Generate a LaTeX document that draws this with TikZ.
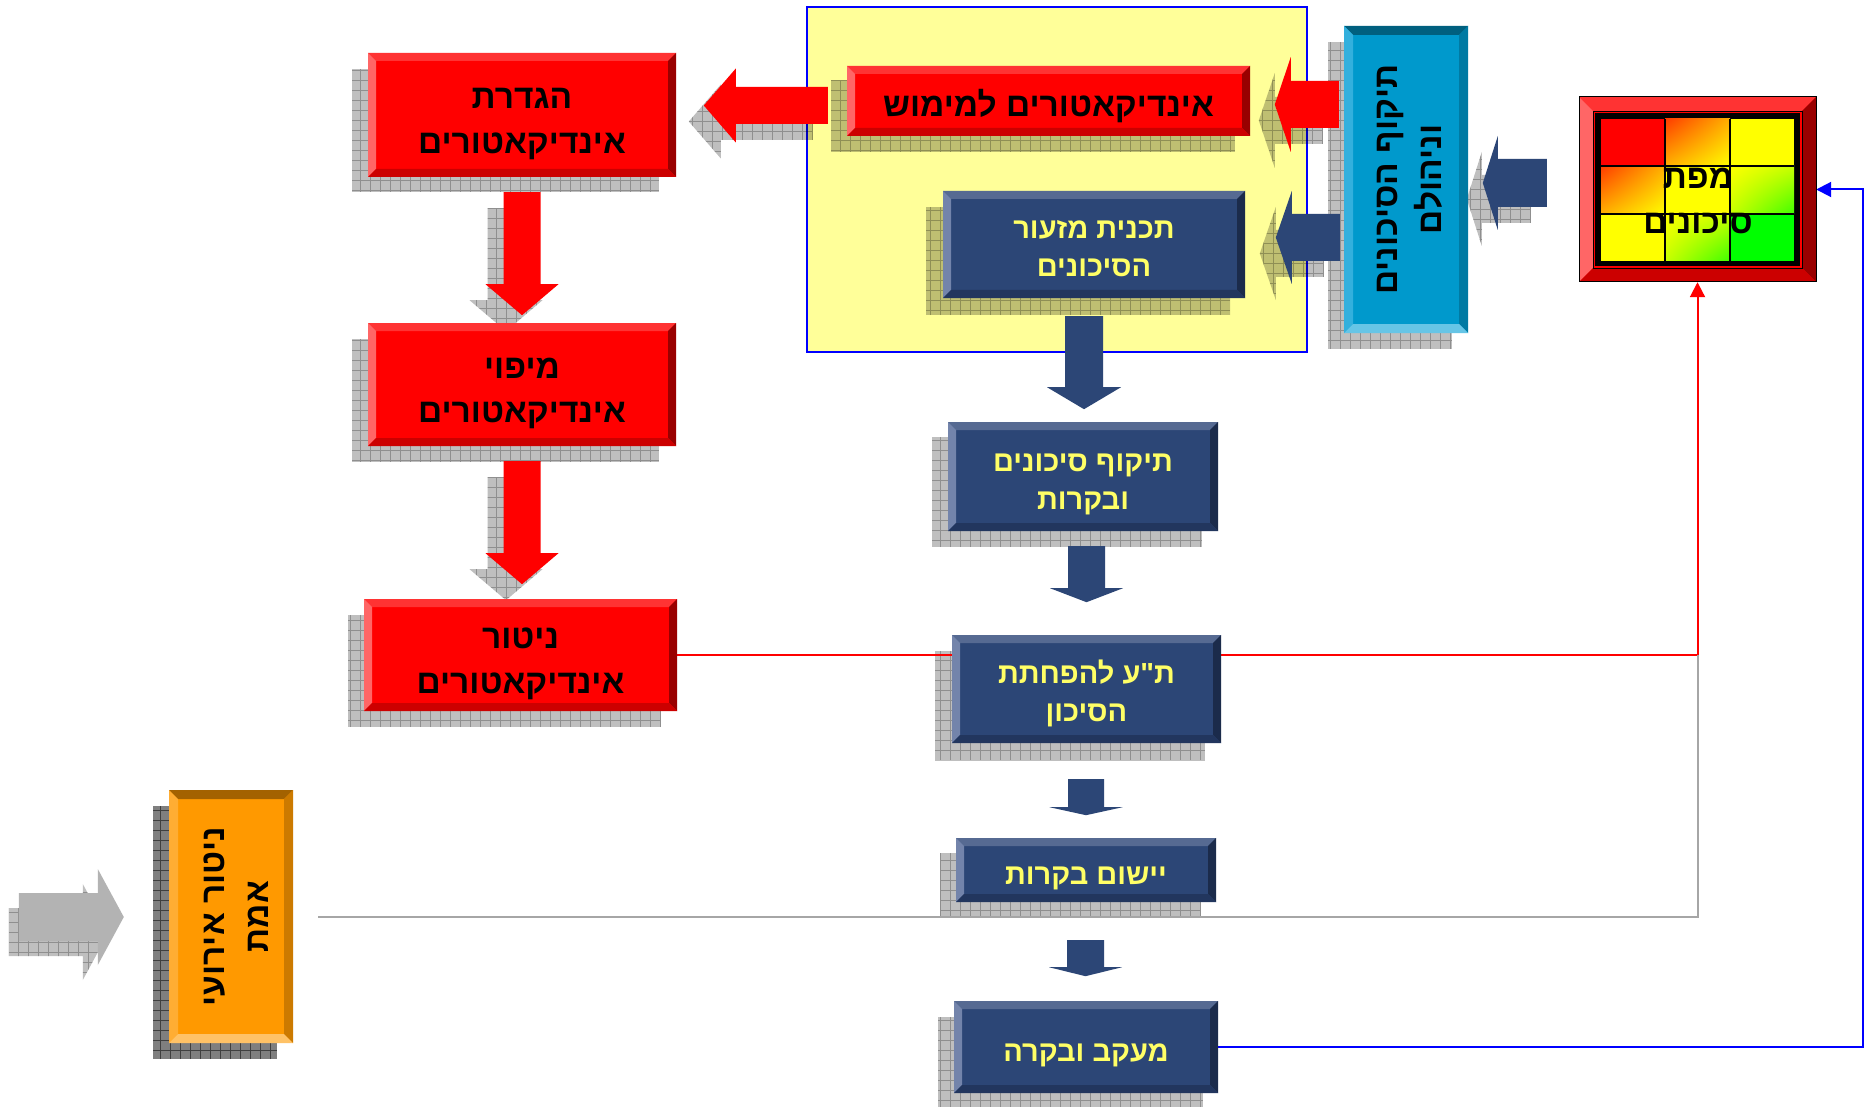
\documentclass[tikz,border=0pt]{standalone}
\usepackage{fontspec}
\newfontfamily\heb[Script=Hebrew]{Liberation Sans}
\TeXXeTstate=1
\usetikzlibrary{arrows.meta,shadings}
\definecolor{redF}{HTML}{FF0000}
\definecolor{redT}{HTML}{FF3333}
\definecolor{redL}{HTML}{FF6666}
\definecolor{redR}{HTML}{990000}
\definecolor{redB}{HTML}{CC0000}
\definecolor{bluF}{HTML}{2C4676}
\definecolor{bluT}{HTML}{566A92}
\definecolor{bluL}{HTML}{7384AB}
\definecolor{bluR}{HTML}{1B2B4B}
\definecolor{bluB}{HTML}{22365E}
\definecolor{tealF}{HTML}{0099CC}
\definecolor{tealT}{HTML}{00607F}
\definecolor{tealL}{HTML}{33B0DD}
\definecolor{tealR}{HTML}{007AA3}
\definecolor{tealB}{HTML}{66C5E6}
\definecolor{orgF}{HTML}{FF9900}
\definecolor{orgT}{HTML}{A36200}
\definecolor{orgL}{HTML}{FFAD33}
\definecolor{orgR}{HTML}{CC7A00}
\definecolor{orgB}{HTML}{FFC266}
\definecolor{panelY}{HTML}{FFFF99}
\definecolor{txtY}{HTML}{FFFF66}
\definecolor{grayA}{HTML}{B3B3B3}
\definecolor{grayLn}{HTML}{A6A6A6}
\definecolor{rOr}{HTML}{FF3C00}
\definecolor{mOr}{HTML}{FFB000}
\definecolor{yel}{HTML}{FFFF00}
\definecolor{yg}{HTML}{C8FF00}
\definecolor{grn}{HTML}{00FF00}
\definecolor{grnB}{HTML}{40FF00}
\pgfdeclarelayer{bg}\pgfdeclarelayer{panel}\pgfdeclarelayer{shad}\pgfdeclarelayer{lines}
\pgfsetlayers{bg,panel,shad,lines,main}
\tikzset{
  boxbase/.style={inner sep=0pt},
  blk/.style={font=\heb\bfseries\fontsize{33.5}{44.5}\selectfont, text=black, align=center},
  blkt/.style={blk, yshift=-9pt},
  blk1/.style={blk, yshift=-5pt},
  ylw/.style={font=\heb\bfseries\fontsize{29}{38}\selectfont, text=txtY, align=center, yshift=-8pt},
  ylwh/.style={ylw, yshift=4pt},
  conn/.style={line width=2pt},
  tip/.style={-{Triangle[width=15pt,length=15pt]}},
}
% bevelled box: name x1 y1 x2 y2 bevel scheme text-options text
\newcommand\bevbox[9]{%
  \node[boxbase, fill=#7F, minimum width={(#4-#2)*1pt}, minimum height={(#5-#3)*1pt}] (#1) at ({(#2+#4)/2},{(#3+#5)/2}) {};
  \fill[#7T] (#2,#3) -- (#4,#3) -- ({#4-#6},{#3+#6}) -- ({#2+#6},{#3+#6}) -- cycle;
  \fill[#7L] (#2,#3) -- ({#2+#6},{#3+#6}) -- ({#2+#6},{#5-#6}) -- (#2,#5) -- cycle;
  \fill[#7R] (#4,#3) -- (#4,#5) -- ({#4-#6},{#5-#6}) -- ({#4-#6},{#3+#6}) -- cycle;
  \fill[#7B] (#2,#5) -- (#4,#5) -- ({#4-#6},{#5-#6}) -- ({#2+#6},{#5-#6}) -- cycle;
  \node[#8] (#1t) at (#1.center) {#9};}
% rectangular grid shadow
\newcommand\shrect[5][.25]{%
  \begin{pgfonlayer}{shad}\begin{scope}
  \clip (#2,#3) rectangle (#4,#5);
  \fill[black,fill opacity=#1] (#2,#3) rectangle (#4,#5);
  \draw[black,draw opacity=#1,line width=.8pt,step=10pt] (#2,#3) grid (#4,#5);
  \end{scope}\end{pgfonlayer}}
% block arrow outlines (origin at tail centre)
\newcommand\dpath[4]{(-#1,0) -- (#1,0) -- (#1,#2) -- (#3,#2) -- (0,{#2+#4}) -- (-#3,#2) -- (-#1,#2) -- cycle}
\newcommand\lpath[4]{(0,-#1) -- (0,#1) -- (-#2,#1) -- (-#2,#3) -- ({-#2-#4},0) -- (-#2,-#3) -- (-#2,-#1) -- cycle}
\newcommand\rpath[4]{(0,-#1) -- (#2,-#1) -- (#2,-#3) -- ({#2+#4},0) -- (#2,#3) -- (#2,#1) -- (0,#1) -- cycle}
% arrow shadow: anchor dx dy path
\newcommand\arrsh[4]{%
  \begin{pgfonlayer}{shad}\begin{scope}[shift={(#1)},shift={(#2,#3)}]
  \clip #4;
  \fill[black,fill opacity=.25] (-300,-300) rectangle (300,300);
  \draw[black,draw opacity=.25,line width=.8pt,step=10pt] (-300,-300) grid (300,300);
  \end{scope}\end{pgfonlayer}}
\begin{document}
\begin{tikzpicture}[x=1pt,y=-1pt]
\useasboundingbox (0,0) rectangle (1876,1107);
\begin{pgfonlayer}{bg}
\fill[white] (0,0) rectangle (1876,1107);
\end{pgfonlayer}
\begin{pgfonlayer}{panel}
\node[draw=blue, fill=panelY, line width=1.5pt, minimum width=500pt, minimum height=345pt, inner sep=0pt] (panel) at (1057,179.5) {};
\end{pgfonlayer}
% box shadows
\shrect{352}{69}{659}{192}
\shrect{352}{339}{659}{462}
\shrect{348}{615}{661}{727}
\shrect{831}{80}{1235}{152}
\shrect{926}{207}{1230}{315}
\shrect{932}{437}{1202}{547}
\shrect{935}{651}{1205}{760}
\shrect{940}{853}{1201}{917}
\shrect{938}{1017}{1203}{1107}
\shrect{1328}{42}{1452}{349}
\shrect[.5]{153}{806}{277}{1059}
% boxes
\bevbox{A}{368}{53}{676}{177}{8}{red}{blkt}{\beginR הגדרת\endR\\\beginR אינדיקאטורים\endR}
\bevbox{B}{368}{323}{676}{446}{8}{red}{blkt}{\beginR מיפוי\endR\\\beginR אינדיקאטורים\endR}
\bevbox{C}{364}{599}{677}{711}{8}{red}{blkt}{\beginR ניטור\endR\\\beginR אינדיקאטורים\endR}
\bevbox{L}{847}{66}{1250}{136}{8}{red}{blk1}{\beginR אינדיקאטורים למימוש\endR}
\bevbox{M}{943}{191}{1245}{298}{8}{blu}{ylwh}{\beginR תכנית מזעור\endR\\\beginR הסיכונים\endR}
\bevbox{N}{948}{422}{1218}{531}{8}{blu}{ylw}{\beginR תיקוף סיכונים\endR\\\beginR ובקרות\endR}
\bevbox{O}{952}{635}{1221}{743}{8}{blu}{ylwh}{\beginR ת"ע להפחתת\endR\\\beginR הסיכון\endR}
\bevbox{P}{956}{838}{1216}{902}{8}{blu}{ylw}{\beginR יישום בקרות\endR}
\bevbox{Q}{954}{1001}{1218}{1093}{8}{blu}{ylw}{\beginR מעקב ובקרה\endR}
\bevbox{T}{1344}{26}{1468}{333}{9}{teal}{blk, xshift=4pt, rotate=90}{\beginR תיקוף הסיכונים\endR\\\beginR וניהולם\endR}
\bevbox{orng}{169}{790}{293}{1043}{9}{org}{blk, xshift=5pt, rotate=90}{\beginR ניטור אירועי\endR\\\beginR אמת\endR}
% risk map
\bevbox{risk}{1579}{97}{1816}{282}{14}{red}{}{}
\draw[black, line width=1pt] (1579,97) rectangle (1816,282);
\draw[black, line width=.8pt] (1593,111) rectangle (1802,268);
\fill[black] (1595,113) rectangle (1800,266);
\fill[red] (1601,119) rectangle (1665,166);
\shade[upper left=rOr, upper right=mOr, lower left=mOr, lower right=yel] (1665,119) rectangle (1730,166);
\fill[yel] (1730,119) rectangle (1794,166);
\shade[upper left=rOr, upper right=mOr, lower left=mOr, lower right=yel] (1601,166) rectangle (1665,214);
\fill[yel] (1665,166) rectangle (1730,214);
\shade[upper left=yel, upper right=yg, lower left=yg, lower right=grnB] (1730,166) rectangle (1794,214);
\fill[yel] (1601,214) rectangle (1665,261);
\shade[upper left=yel, upper right=yg, lower left=yg, lower right=grnB] (1665,214) rectangle (1730,261);
\fill[grn] (1730,214) rectangle (1794,261);
\draw[black, line width=1.3pt] (1665,119) -- (1665,261) (1730,119) -- (1730,261) (1601,166) -- (1794,166) (1601,214) -- (1794,214);
\node[blk] (risktext) at (1698,201) {\beginR מפת\endR\\\beginR סיכונים\endR};
% block arrows with shadows
\arrsh{A.south}{-16}{31}{\dpath{18.5}{92}{36.5}{31}}
\fill[redF, shift={(A.south)}, shift={(0,15)}] \dpath{18.5}{92}{36.5}{31};
\arrsh{B.south}{-16}{31}{\dpath{18.5}{92}{36.5}{31}}
\fill[redF, shift={(B.south)}, shift={(0,15)}] \dpath{18.5}{92}{36.5}{31};
\arrsh{L.west}{-34}{20.5}{\lpath{18.5}{92}{37}{32}}
\fill[redF, shift={(L.west)}, shift={(-19,4.5)}] \lpath{18.5}{92}{37}{32};
\arrsh{T.west}{-21}{-59}{\lpath{23.5}{48}{47.5}{16}}
\fill[redF, shift={(T.west)}, shift={(-5,-75)}] \lpath{23.5}{48}{47.5}{16};
\arrsh{T.west}{-20}{74}{\lpath{23.5}{48}{46.5}{16}}
\fill[bluF, shift={(T.west)}, shift={(-4,58)}] \lpath{23.5}{48}{46.5}{16};
\arrsh{risk.west}{-48}{9.5}{\lpath{24}{49}{47}{15}}
\fill[bluF, shift={(risk.west)}, shift={(-32,-6.5)}] \lpath{24}{49}{47}{15};
\fill[bluF, shift={(M.south)}, shift={(-10,18)}] \dpath{19}{71}{37}{22};
\fill[bluF, shift={(N.south)}, shift={(3.5,15)}] \dpath{18.5}{42}{36.5}{14};
\fill[bluF, shift={(O.south)}, shift={(-0.5,36)}] \dpath{18}{28}{36.5}{8};
\fill[bluF, shift={(P.south)}, shift={(-0.5,38)}] \dpath{18.5}{27}{36.5}{9};
\arrsh{orng.west}{-160}{15.5}{\rpath{24}{74}{48}{26}}
\fill[grayA, shift={(orng.west)}, shift={(-150,0.5)}] \rpath{24}{79}{48}{26};
% connectors
\begin{pgfonlayer}{lines}
\coordinate (rc) at (risk.south |- C.east);
\coordinate (g0) at ([xshift=25pt]orng.east);
\draw[conn, red, tip] (C.east) -| (risk.south);
\draw[conn, grayLn] (g0) -| (rc);
\draw[conn, blue, tip] (Q.east) -- ++(645,0) |- (risk.east);
\end{pgfonlayer}
\end{tikzpicture}
\end{document}
